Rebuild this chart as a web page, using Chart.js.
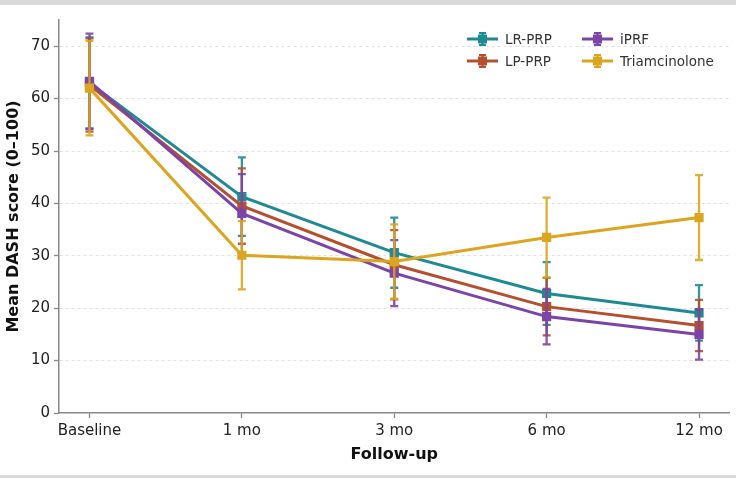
<!DOCTYPE html>
<html>
<head>
<meta charset="utf-8">
<script src="https://cdn.jsdelivr.net/npm/chart.js@4"></script>
<style>
  html, body { margin: 0; padding: 0; }
  body { width: 736px; height: 478px; background: #d9d9d9; position: relative; overflow: hidden; font-family: 'DejaVu Sans', sans-serif; }
  #wrap { position: absolute; left: 0; top: 5px; width: 736px; height: 470px; background: #ffffff; }
  #legend { position: absolute; left: 0; top: 0; }
  .item { position: absolute; display: flex; align-items: center; font-size: 13.5px; color: #333; white-space: nowrap; }
  .item svg { margin-right: 7px; }
</style>
</head>
<body>
<div id="wrap">
  <canvas id="c" width="736" height="470"></canvas>
</div>
<div id="legend"></div>
<script>
// ---- data ----
const categories = ['Baseline', '1 mo', '3 mo', '6 mo', '12 mo'];
const seriesNames = ['LR-PRP', 'LP-PRP', 'iPRF', 'Triamcinolone'];
const lrprpMean = [63.0, 41.3, 30.6, 22.8, 19.1];
const lrprpSD   = [8.7, 7.5, 6.7, 6.0, 5.3];
const lpprpMean = [62.6, 39.5, 28.3, 20.3, 16.7];
const lpprpSD   = [8.9, 7.2, 6.6, 5.5, 4.9];
const iprfMean  = [63.3, 38.1, 26.7, 18.4, 15.0];
const iprfSD    = [9.1, 7.5, 6.3, 5.3, 4.8];
const triMean   = [62.0, 30.1, 28.9, 33.5, 37.3];
const triSD     = [9.0, 6.5, 7.1, 7.6, 8.1];
const yTicks = [0, 10, 20, 30, 40, 50, 60, 70];
const colors = ['#1d8a94', '#b5502f', '#7b44a6', '#dca51f'];

const means = [lrprpMean, lpprpMean, iprfMean, triMean];
const sds = [lrprpSD, lpprpSD, iprfSD, triSD];

function hexA(hex, a) {
  const n = parseInt(hex.slice(1), 16);
  return `rgba(${(n >> 16) & 255},${(n >> 8) & 255},${n & 255},${a})`;
}

const datasets = seriesNames.map((name, i) => ({
  label: name,
  data: means[i].map((v, j) => ({ x: j, y: v })),
  sd: sds[i],
  borderColor: colors[i],
  backgroundColor: colors[i],
  pointBackgroundColor: colors[i],
  pointBorderColor: colors[i],
  pointStyle: 'rect',
  pointRadius: 6.5,
  pointBorderWidth: 0,
  pointHoverRadius: 6.5,
  borderWidth: 3,
  tension: 0,
  order: seriesNames.length - i
}));

const errorBars = {
  id: 'errorBars',
  beforeDatasetDraw(chart, args) {
    const ds = chart.data.datasets[args.index];
    const yScale = chart.scales.y;
    const ctx = chart.ctx;
    ctx.save();
    ctx.strokeStyle = hexA(ds.borderColor, 0.9);
    ctx.lineWidth = 2.3;
    args.meta.data.forEach((pt, j) => {
      const m = ds.data[j].y, s = ds.sd[j];
      const yTop = yScale.getPixelForValue(m + s);
      const yBot = yScale.getPixelForValue(m - s);
      const x = pt.x;
      ctx.beginPath();
      ctx.moveTo(x, yTop); ctx.lineTo(x, yBot);
      ctx.moveTo(x - 4, yTop); ctx.lineTo(x + 4, yTop);
      ctx.moveTo(x - 4, yBot); ctx.lineTo(x + 4, yBot);
      ctx.stroke();
    });
    ctx.restore();
  }
};

const chart = new Chart(document.getElementById('c'), {
  type: 'line',
  data: { datasets },
  plugins: [errorBars],
  options: {
    responsive: false,
    animation: false,
    events: [],
    layout: { padding: { left: 0, right: 6, top: 15, bottom: 0 } },
    plugins: { legend: { display: false }, tooltip: { enabled: false } },
    scales: {
      x: {
        type: 'linear',
        min: -0.2,
        max: 4.2,
        afterBuildTicks(scale) { scale.ticks = categories.map((c, i) => ({ value: i })); },
        afterFit(scale) { scale.height = 62; },
        ticks: {
          callback: (v) => categories[v] ?? '',
          color: '#222',
          font: { size: 15, family: 'DejaVu Sans' },
          padding: 4,
          maxRotation: 0,
          autoSkip: false
        },
        grid: { drawOnChartArea: false, drawTicks: true, tickLength: 5, tickColor: '#888', tickWidth: 1.3 },
        border: { display: true, color: '#888', width: 1.5 },
        title: {
          display: true,
          text: 'Follow-up',
          color: '#111',
          font: { size: 16, weight: 'bold', family: 'DejaVu Sans' },
          padding: { top: 0, bottom: 11 }
        }
      },
      y: {
        type: 'linear',
        min: 0,
        max: 75,
        afterBuildTicks(scale) { scale.ticks = yTicks.map(v => ({ value: v })); },
        afterFit(scale) { scale.width = 59; },
        ticks: {
          color: '#222',
          font: { size: 15, family: 'DejaVu Sans' },
          padding: 4
        },
        grid: {
          color: (c) => (c.tick && c.tick.value === 0) ? 'rgba(0,0,0,0)' : '#e0e0e0',
          lineWidth: 1,
          drawTicks: true,
          tickLength: 5,
          tickColor: '#888',
          tickWidth: 1.3,
          tickBorderDash: []
        },
        border: { display: true, color: '#888', width: 1.5, dash: [3, 3] },
        title: {
          display: true,
          text: 'Mean DASH score (0–100)',
          color: '#111',
          font: { size: 16, weight: 'bold', family: 'DejaVu Sans' },
          padding: { top: 4, bottom: 0 }
        }
      }
    }
  }
});

// ---- legend (built from the chart's datasets) ----
const legendPos = [
  { left: 467, top: 38.5 }, { left: 467, top: 61 },
  { left: 582, top: 38.5 }, { left: 582, top: 61 }
];
const legendEl = document.getElementById('legend');
chart.data.datasets.forEach((ds, i) => {
  const c = ds.borderColor;
  const div = document.createElement('div');
  div.className = 'item';
  div.style.left = legendPos[i].left + 'px';
  div.style.top = (legendPos[i].top - 9) + 'px';
  div.style.height = '18px';
  div.innerHTML =
    `<svg width="31" height="16" viewBox="0 0 31 16">` +
    `<line x1="0" y1="8" x2="31" y2="8" stroke="${c}" stroke-width="3"/>` +
    `<line x1="15.5" y1="2" x2="15.5" y2="14" stroke="${c}" stroke-width="2.3"/>` +
    `<line x1="12" y1="2" x2="19" y2="2" stroke="${c}" stroke-width="2"/>` +
    `<line x1="12" y1="14" x2="19" y2="14" stroke="${c}" stroke-width="2"/>` +
    `<rect x="11" y="3.5" width="9" height="9" fill="${c}"/>` +
    `</svg><span>${ds.label}</span>`;
  legendEl.appendChild(div);
});
</script>
</body>
</html>
